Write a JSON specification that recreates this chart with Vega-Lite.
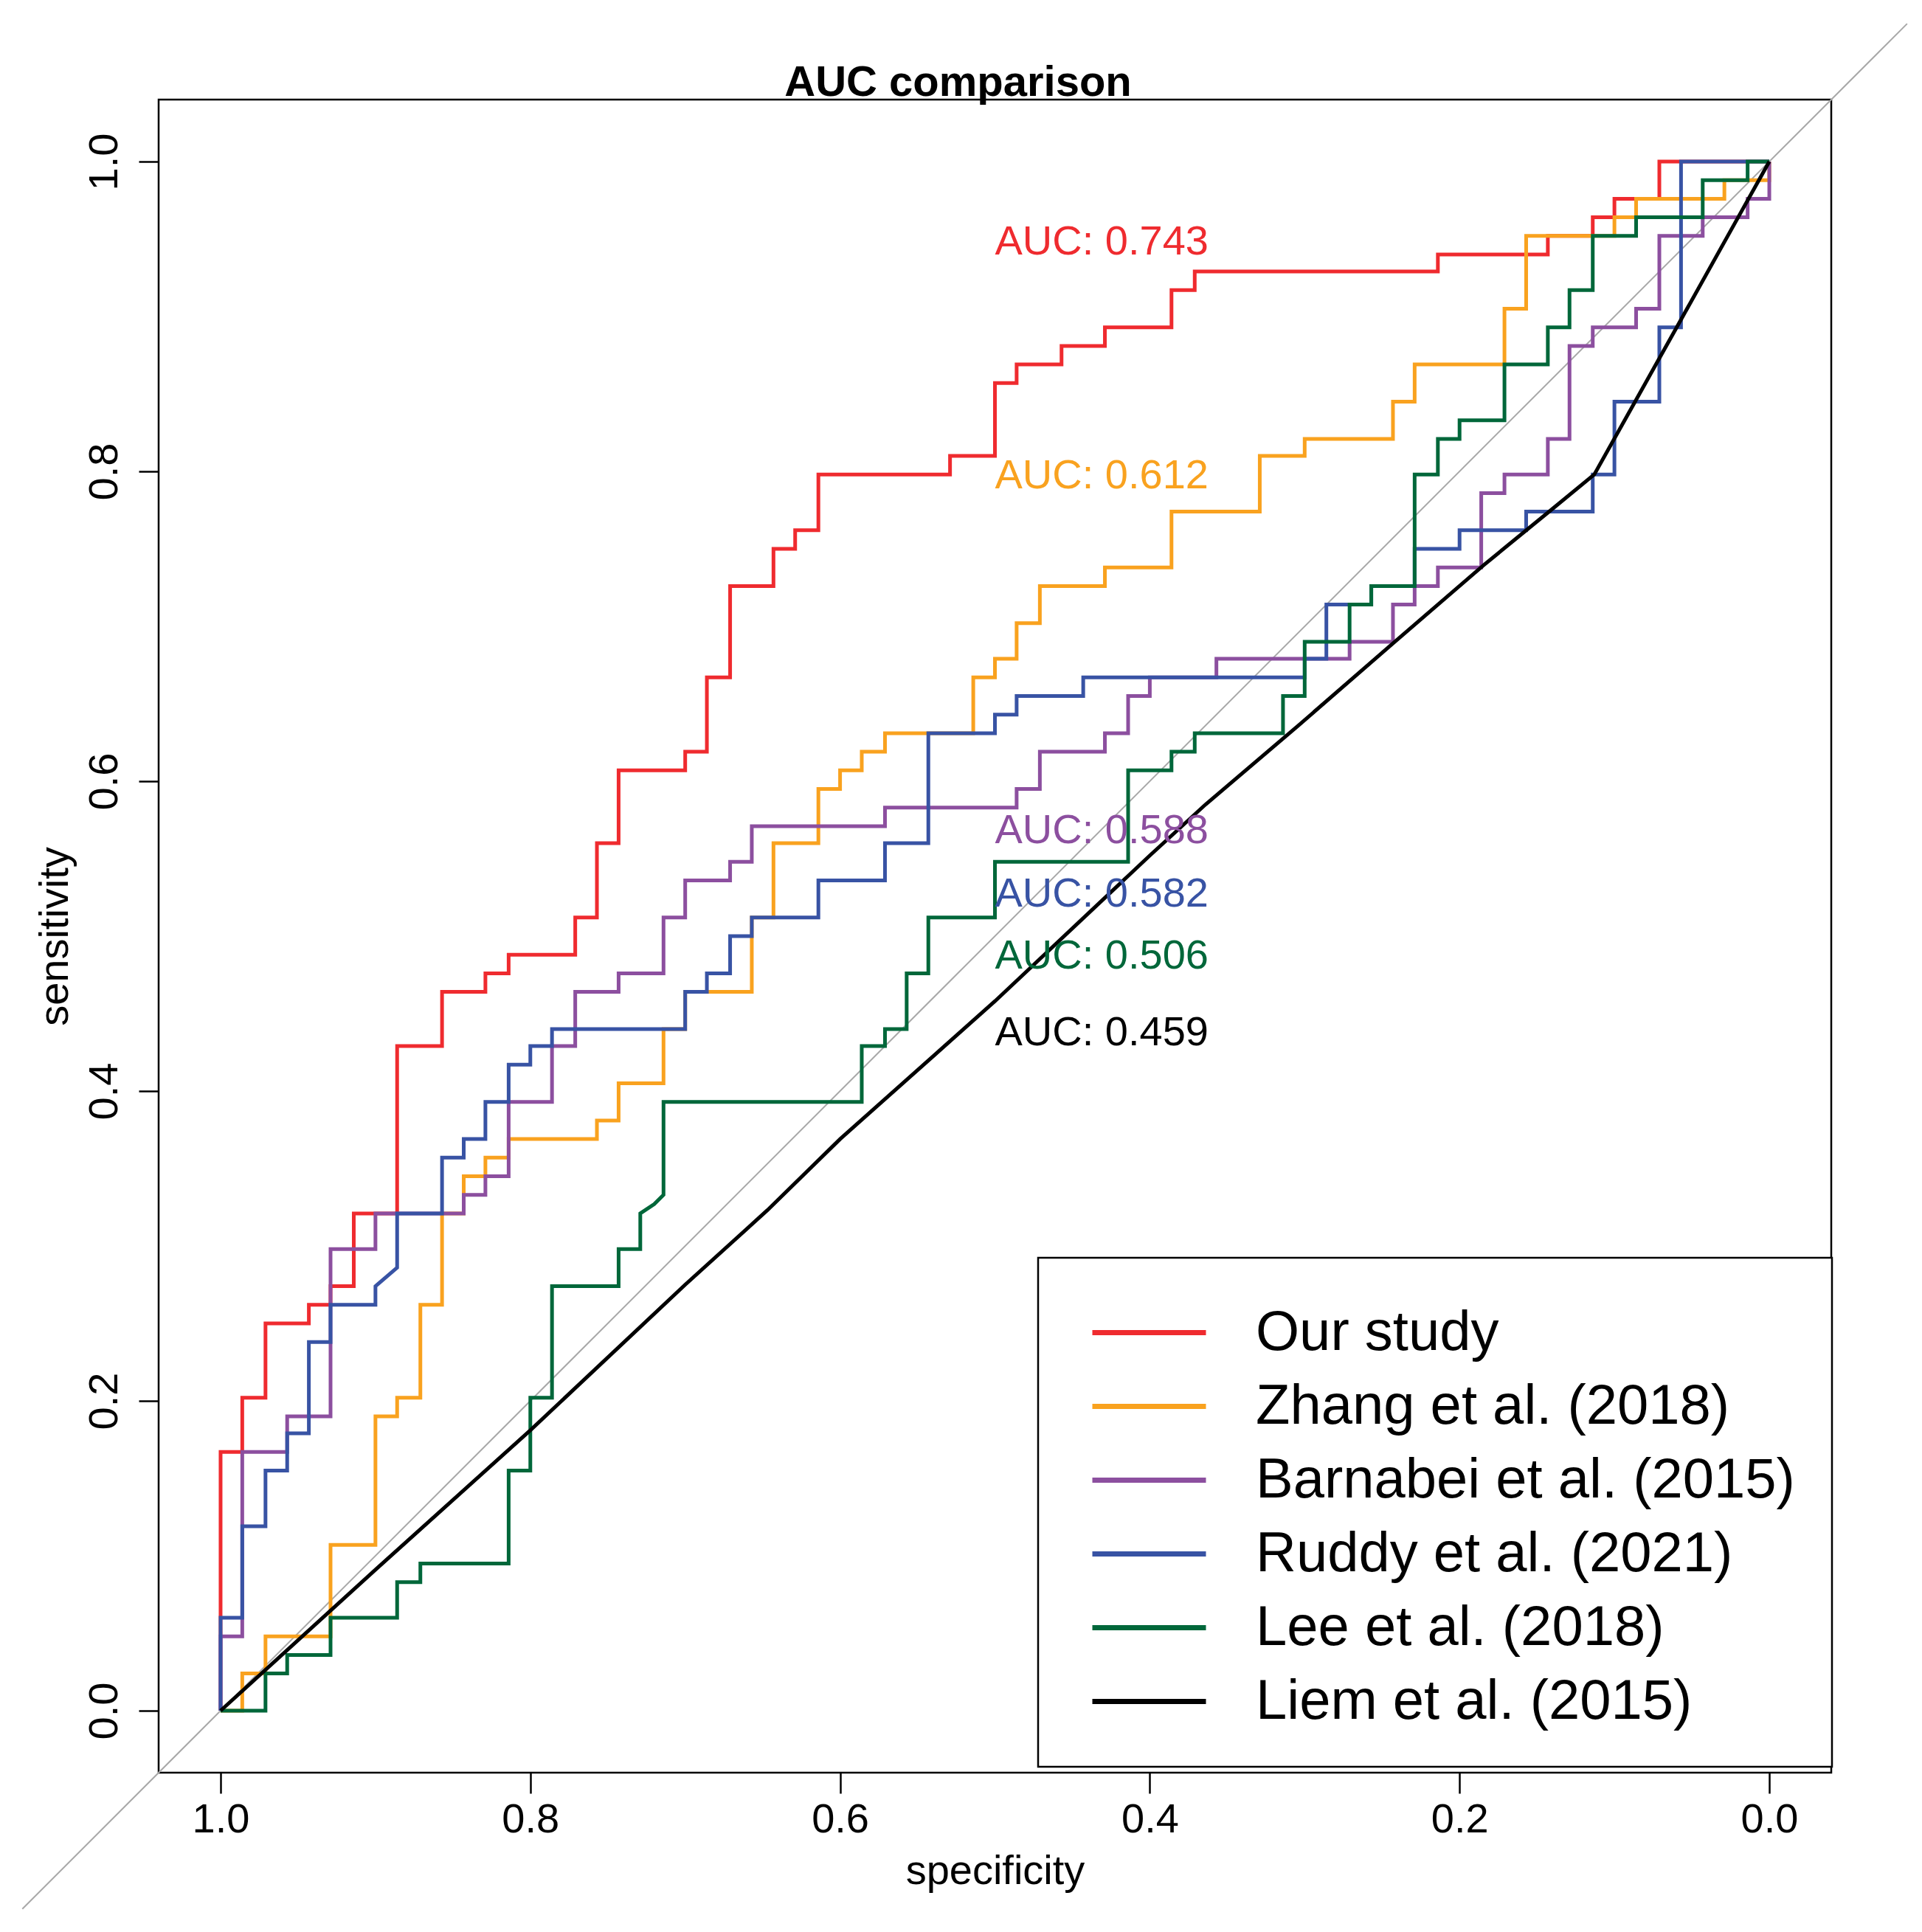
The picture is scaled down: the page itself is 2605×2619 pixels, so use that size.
{
  "$schema": "https://vega.github.io/schema/vega-lite/v6.json",
  "width": 2267,
  "height": 2268,
  "autosize": {"type": "none"},
  "padding": {"left": 215, "top": 135, "right": 123, "bottom": 216},
  "background": "white",
  "config": {
    "font": "Liberation Sans",
    "view": {"stroke": "black", "strokeWidth": 2.5},
    "axis": {
      "domain": false,
      "grid": false,
      "ticks": true,
      "tickColor": "black",
      "tickWidth": 2.5,
      "labelFont": "Liberation Sans",
      "labelFontSize": 56,
      "labelColor": "black",
      "labelFlush": false,
      "labelOverlap": false,
      "titleFont": "Liberation Sans",
      "titleFontSize": 56,
      "titleFontWeight": "normal",
      "titleColor": "black"
    }
  },
  "title": {
    "text": "AUC comparison",
    "font": "Liberation Sans",
    "fontSize": 58,
    "fontWeight": "bold",
    "color": "black",
    "anchor": "middle",
    "frame": "group",
    "dx": -50,
    "dy": 162,
    "offset": 5,
    "baseline": "alphabetic"
  },
  "datasets": {
    "diagonal": [{"spec": 1.128, "sens": -0.128, "spec2": -0.089, "sens2": 1.089}],
    "roc": [
      {"model":"Our study","spec":1,"sens":0},{"model":"Our study","spec":1,"sens":0.167},{"model":"Our study","spec":0.986,"sens":0.167},{"model":"Our study","spec":0.986,"sens":0.202},{"model":"Our study","spec":0.971,"sens":0.202},{"model":"Our study","spec":0.971,"sens":0.25},{"model":"Our study","spec":0.943,"sens":0.25},{"model":"Our study","spec":0.943,"sens":0.262},{"model":"Our study","spec":0.929,"sens":0.262},{"model":"Our study","spec":0.929,"sens":0.274},{"model":"Our study","spec":0.914,"sens":0.274},{"model":"Our study","spec":0.914,"sens":0.321},{"model":"Our study","spec":0.886,"sens":0.321},{"model":"Our study","spec":0.886,"sens":0.429},{"model":"Our study","spec":0.857,"sens":0.429},{"model":"Our study","spec":0.857,"sens":0.464},{"model":"Our study","spec":0.829,"sens":0.464},{"model":"Our study","spec":0.829,"sens":0.476},{"model":"Our study","spec":0.814,"sens":0.476},{"model":"Our study","spec":0.814,"sens":0.488},{"model":"Our study","spec":0.771,"sens":0.488},{"model":"Our study","spec":0.771,"sens":0.512},{"model":"Our study","spec":0.757,"sens":0.512},{"model":"Our study","spec":0.757,"sens":0.56},{"model":"Our study","spec":0.743,"sens":0.56},{"model":"Our study","spec":0.743,"sens":0.607},{"model":"Our study","spec":0.7,"sens":0.607},{"model":"Our study","spec":0.7,"sens":0.619},{"model":"Our study","spec":0.686,"sens":0.619},{"model":"Our study","spec":0.686,"sens":0.667},{"model":"Our study","spec":0.671,"sens":0.667},{"model":"Our study","spec":0.671,"sens":0.726},{"model":"Our study","spec":0.643,"sens":0.726},{"model":"Our study","spec":0.643,"sens":0.75},{"model":"Our study","spec":0.629,"sens":0.75},{"model":"Our study","spec":0.629,"sens":0.762},{"model":"Our study","spec":0.614,"sens":0.762},{"model":"Our study","spec":0.614,"sens":0.798},{"model":"Our study","spec":0.529,"sens":0.798},{"model":"Our study","spec":0.529,"sens":0.81},{"model":"Our study","spec":0.5,"sens":0.81},{"model":"Our study","spec":0.5,"sens":0.857},{"model":"Our study","spec":0.486,"sens":0.857},{"model":"Our study","spec":0.486,"sens":0.869},{"model":"Our study","spec":0.457,"sens":0.869},{"model":"Our study","spec":0.457,"sens":0.881},{"model":"Our study","spec":0.429,"sens":0.881},{"model":"Our study","spec":0.429,"sens":0.893},{"model":"Our study","spec":0.386,"sens":0.893},{"model":"Our study","spec":0.386,"sens":0.917},{"model":"Our study","spec":0.371,"sens":0.917},{"model":"Our study","spec":0.371,"sens":0.929},{"model":"Our study","spec":0.214,"sens":0.929},{"model":"Our study","spec":0.214,"sens":0.94},{"model":"Our study","spec":0.143,"sens":0.94},{"model":"Our study","spec":0.143,"sens":0.952},{"model":"Our study","spec":0.114,"sens":0.952},{"model":"Our study","spec":0.114,"sens":0.964},{"model":"Our study","spec":0.1,"sens":0.964},{"model":"Our study","spec":0.1,"sens":0.976},{"model":"Our study","spec":0.071,"sens":0.976},{"model":"Our study","spec":0.071,"sens":1},{"model":"Our study","spec":0,"sens":1},

      {"model":"Zhang et al. (2018)","spec":1,"sens":0},{"model":"Zhang et al. (2018)","spec":0.986,"sens":0},{"model":"Zhang et al. (2018)","spec":0.986,"sens":0.024},{"model":"Zhang et al. (2018)","spec":0.971,"sens":0.024},{"model":"Zhang et al. (2018)","spec":0.971,"sens":0.048},{"model":"Zhang et al. (2018)","spec":0.929,"sens":0.048},{"model":"Zhang et al. (2018)","spec":0.929,"sens":0.107},{"model":"Zhang et al. (2018)","spec":0.9,"sens":0.107},{"model":"Zhang et al. (2018)","spec":0.9,"sens":0.19},{"model":"Zhang et al. (2018)","spec":0.886,"sens":0.19},{"model":"Zhang et al. (2018)","spec":0.886,"sens":0.202},{"model":"Zhang et al. (2018)","spec":0.871,"sens":0.202},{"model":"Zhang et al. (2018)","spec":0.871,"sens":0.262},{"model":"Zhang et al. (2018)","spec":0.857,"sens":0.262},{"model":"Zhang et al. (2018)","spec":0.857,"sens":0.321},{"model":"Zhang et al. (2018)","spec":0.843,"sens":0.321},{"model":"Zhang et al. (2018)","spec":0.843,"sens":0.345},{"model":"Zhang et al. (2018)","spec":0.829,"sens":0.345},{"model":"Zhang et al. (2018)","spec":0.829,"sens":0.357},{"model":"Zhang et al. (2018)","spec":0.814,"sens":0.357},{"model":"Zhang et al. (2018)","spec":0.814,"sens":0.369},{"model":"Zhang et al. (2018)","spec":0.757,"sens":0.369},{"model":"Zhang et al. (2018)","spec":0.757,"sens":0.381},{"model":"Zhang et al. (2018)","spec":0.743,"sens":0.381},{"model":"Zhang et al. (2018)","spec":0.743,"sens":0.405},{"model":"Zhang et al. (2018)","spec":0.714,"sens":0.405},{"model":"Zhang et al. (2018)","spec":0.714,"sens":0.44},{"model":"Zhang et al. (2018)","spec":0.7,"sens":0.44},{"model":"Zhang et al. (2018)","spec":0.7,"sens":0.464},{"model":"Zhang et al. (2018)","spec":0.657,"sens":0.464},{"model":"Zhang et al. (2018)","spec":0.657,"sens":0.512},{"model":"Zhang et al. (2018)","spec":0.643,"sens":0.512},{"model":"Zhang et al. (2018)","spec":0.643,"sens":0.56},{"model":"Zhang et al. (2018)","spec":0.614,"sens":0.56},{"model":"Zhang et al. (2018)","spec":0.614,"sens":0.595},{"model":"Zhang et al. (2018)","spec":0.6,"sens":0.595},{"model":"Zhang et al. (2018)","spec":0.6,"sens":0.607},{"model":"Zhang et al. (2018)","spec":0.586,"sens":0.607},{"model":"Zhang et al. (2018)","spec":0.586,"sens":0.619},{"model":"Zhang et al. (2018)","spec":0.571,"sens":0.619},{"model":"Zhang et al. (2018)","spec":0.571,"sens":0.631},{"model":"Zhang et al. (2018)","spec":0.514,"sens":0.631},{"model":"Zhang et al. (2018)","spec":0.514,"sens":0.667},{"model":"Zhang et al. (2018)","spec":0.5,"sens":0.667},{"model":"Zhang et al. (2018)","spec":0.5,"sens":0.679},{"model":"Zhang et al. (2018)","spec":0.486,"sens":0.679},{"model":"Zhang et al. (2018)","spec":0.486,"sens":0.702},{"model":"Zhang et al. (2018)","spec":0.471,"sens":0.702},{"model":"Zhang et al. (2018)","spec":0.471,"sens":0.726},{"model":"Zhang et al. (2018)","spec":0.429,"sens":0.726},{"model":"Zhang et al. (2018)","spec":0.429,"sens":0.738},{"model":"Zhang et al. (2018)","spec":0.386,"sens":0.738},{"model":"Zhang et al. (2018)","spec":0.386,"sens":0.774},{"model":"Zhang et al. (2018)","spec":0.329,"sens":0.774},{"model":"Zhang et al. (2018)","spec":0.329,"sens":0.81},{"model":"Zhang et al. (2018)","spec":0.3,"sens":0.81},{"model":"Zhang et al. (2018)","spec":0.3,"sens":0.821},{"model":"Zhang et al. (2018)","spec":0.243,"sens":0.821},{"model":"Zhang et al. (2018)","spec":0.243,"sens":0.845},{"model":"Zhang et al. (2018)","spec":0.229,"sens":0.845},{"model":"Zhang et al. (2018)","spec":0.229,"sens":0.869},{"model":"Zhang et al. (2018)","spec":0.171,"sens":0.869},{"model":"Zhang et al. (2018)","spec":0.171,"sens":0.905},{"model":"Zhang et al. (2018)","spec":0.157,"sens":0.905},{"model":"Zhang et al. (2018)","spec":0.157,"sens":0.952},{"model":"Zhang et al. (2018)","spec":0.1,"sens":0.952},{"model":"Zhang et al. (2018)","spec":0.1,"sens":0.964},{"model":"Zhang et al. (2018)","spec":0.086,"sens":0.964},{"model":"Zhang et al. (2018)","spec":0.086,"sens":0.976},{"model":"Zhang et al. (2018)","spec":0.029,"sens":0.976},{"model":"Zhang et al. (2018)","spec":0.029,"sens":0.988},{"model":"Zhang et al. (2018)","spec":0,"sens":0.988},{"model":"Zhang et al. (2018)","spec":0,"sens":1},

      {"model":"Barnabei et al. (2015)","spec":1,"sens":0},{"model":"Barnabei et al. (2015)","spec":1,"sens":0.048},{"model":"Barnabei et al. (2015)","spec":0.986,"sens":0.048},{"model":"Barnabei et al. (2015)","spec":0.986,"sens":0.167},{"model":"Barnabei et al. (2015)","spec":0.957,"sens":0.167},{"model":"Barnabei et al. (2015)","spec":0.957,"sens":0.19},{"model":"Barnabei et al. (2015)","spec":0.929,"sens":0.19},{"model":"Barnabei et al. (2015)","spec":0.929,"sens":0.298},{"model":"Barnabei et al. (2015)","spec":0.9,"sens":0.298},{"model":"Barnabei et al. (2015)","spec":0.9,"sens":0.321},{"model":"Barnabei et al. (2015)","spec":0.843,"sens":0.321},{"model":"Barnabei et al. (2015)","spec":0.843,"sens":0.333},{"model":"Barnabei et al. (2015)","spec":0.829,"sens":0.333},{"model":"Barnabei et al. (2015)","spec":0.829,"sens":0.345},{"model":"Barnabei et al. (2015)","spec":0.814,"sens":0.345},{"model":"Barnabei et al. (2015)","spec":0.814,"sens":0.393},{"model":"Barnabei et al. (2015)","spec":0.786,"sens":0.393},{"model":"Barnabei et al. (2015)","spec":0.786,"sens":0.429},{"model":"Barnabei et al. (2015)","spec":0.771,"sens":0.429},{"model":"Barnabei et al. (2015)","spec":0.771,"sens":0.464},{"model":"Barnabei et al. (2015)","spec":0.743,"sens":0.464},{"model":"Barnabei et al. (2015)","spec":0.743,"sens":0.476},{"model":"Barnabei et al. (2015)","spec":0.714,"sens":0.476},{"model":"Barnabei et al. (2015)","spec":0.714,"sens":0.512},{"model":"Barnabei et al. (2015)","spec":0.7,"sens":0.512},{"model":"Barnabei et al. (2015)","spec":0.7,"sens":0.536},{"model":"Barnabei et al. (2015)","spec":0.671,"sens":0.536},{"model":"Barnabei et al. (2015)","spec":0.671,"sens":0.548},{"model":"Barnabei et al. (2015)","spec":0.657,"sens":0.548},{"model":"Barnabei et al. (2015)","spec":0.657,"sens":0.571},{"model":"Barnabei et al. (2015)","spec":0.571,"sens":0.571},{"model":"Barnabei et al. (2015)","spec":0.571,"sens":0.583},{"model":"Barnabei et al. (2015)","spec":0.486,"sens":0.583},{"model":"Barnabei et al. (2015)","spec":0.486,"sens":0.595},{"model":"Barnabei et al. (2015)","spec":0.471,"sens":0.595},{"model":"Barnabei et al. (2015)","spec":0.471,"sens":0.619},{"model":"Barnabei et al. (2015)","spec":0.429,"sens":0.619},{"model":"Barnabei et al. (2015)","spec":0.429,"sens":0.631},{"model":"Barnabei et al. (2015)","spec":0.414,"sens":0.631},{"model":"Barnabei et al. (2015)","spec":0.414,"sens":0.655},{"model":"Barnabei et al. (2015)","spec":0.4,"sens":0.655},{"model":"Barnabei et al. (2015)","spec":0.4,"sens":0.667},{"model":"Barnabei et al. (2015)","spec":0.357,"sens":0.667},{"model":"Barnabei et al. (2015)","spec":0.357,"sens":0.679},{"model":"Barnabei et al. (2015)","spec":0.271,"sens":0.679},{"model":"Barnabei et al. (2015)","spec":0.271,"sens":0.69},{"model":"Barnabei et al. (2015)","spec":0.243,"sens":0.69},{"model":"Barnabei et al. (2015)","spec":0.243,"sens":0.714},{"model":"Barnabei et al. (2015)","spec":0.229,"sens":0.714},{"model":"Barnabei et al. (2015)","spec":0.229,"sens":0.726},{"model":"Barnabei et al. (2015)","spec":0.214,"sens":0.726},{"model":"Barnabei et al. (2015)","spec":0.214,"sens":0.738},{"model":"Barnabei et al. (2015)","spec":0.186,"sens":0.738},{"model":"Barnabei et al. (2015)","spec":0.186,"sens":0.786},{"model":"Barnabei et al. (2015)","spec":0.171,"sens":0.786},{"model":"Barnabei et al. (2015)","spec":0.171,"sens":0.798},{"model":"Barnabei et al. (2015)","spec":0.143,"sens":0.798},{"model":"Barnabei et al. (2015)","spec":0.143,"sens":0.821},{"model":"Barnabei et al. (2015)","spec":0.129,"sens":0.821},{"model":"Barnabei et al. (2015)","spec":0.129,"sens":0.881},{"model":"Barnabei et al. (2015)","spec":0.114,"sens":0.881},{"model":"Barnabei et al. (2015)","spec":0.114,"sens":0.893},{"model":"Barnabei et al. (2015)","spec":0.086,"sens":0.893},{"model":"Barnabei et al. (2015)","spec":0.086,"sens":0.905},{"model":"Barnabei et al. (2015)","spec":0.071,"sens":0.905},{"model":"Barnabei et al. (2015)","spec":0.071,"sens":0.952},{"model":"Barnabei et al. (2015)","spec":0.043,"sens":0.952},{"model":"Barnabei et al. (2015)","spec":0.043,"sens":0.964},{"model":"Barnabei et al. (2015)","spec":0.014,"sens":0.964},{"model":"Barnabei et al. (2015)","spec":0.014,"sens":0.976},{"model":"Barnabei et al. (2015)","spec":0,"sens":0.976},{"model":"Barnabei et al. (2015)","spec":0,"sens":1},

      {"model":"Ruddy et al. (2021)","spec":1,"sens":0},{"model":"Ruddy et al. (2021)","spec":1,"sens":0.06},{"model":"Ruddy et al. (2021)","spec":0.986,"sens":0.06},{"model":"Ruddy et al. (2021)","spec":0.986,"sens":0.119},{"model":"Ruddy et al. (2021)","spec":0.971,"sens":0.119},{"model":"Ruddy et al. (2021)","spec":0.971,"sens":0.155},{"model":"Ruddy et al. (2021)","spec":0.957,"sens":0.155},{"model":"Ruddy et al. (2021)","spec":0.957,"sens":0.179},{"model":"Ruddy et al. (2021)","spec":0.943,"sens":0.179},{"model":"Ruddy et al. (2021)","spec":0.943,"sens":0.238},{"model":"Ruddy et al. (2021)","spec":0.929,"sens":0.238},{"model":"Ruddy et al. (2021)","spec":0.929,"sens":0.262},{"model":"Ruddy et al. (2021)","spec":0.9,"sens":0.262},{"model":"Ruddy et al. (2021)","spec":0.9,"sens":0.274},{"model":"Ruddy et al. (2021)","spec":0.886,"sens":0.286},{"model":"Ruddy et al. (2021)","spec":0.886,"sens":0.321},{"model":"Ruddy et al. (2021)","spec":0.857,"sens":0.321},{"model":"Ruddy et al. (2021)","spec":0.857,"sens":0.357},{"model":"Ruddy et al. (2021)","spec":0.843,"sens":0.357},{"model":"Ruddy et al. (2021)","spec":0.843,"sens":0.369},{"model":"Ruddy et al. (2021)","spec":0.829,"sens":0.369},{"model":"Ruddy et al. (2021)","spec":0.829,"sens":0.393},{"model":"Ruddy et al. (2021)","spec":0.814,"sens":0.393},{"model":"Ruddy et al. (2021)","spec":0.814,"sens":0.417},{"model":"Ruddy et al. (2021)","spec":0.8,"sens":0.417},{"model":"Ruddy et al. (2021)","spec":0.8,"sens":0.429},{"model":"Ruddy et al. (2021)","spec":0.786,"sens":0.429},{"model":"Ruddy et al. (2021)","spec":0.786,"sens":0.44},{"model":"Ruddy et al. (2021)","spec":0.7,"sens":0.44},{"model":"Ruddy et al. (2021)","spec":0.7,"sens":0.464},{"model":"Ruddy et al. (2021)","spec":0.686,"sens":0.464},{"model":"Ruddy et al. (2021)","spec":0.686,"sens":0.476},{"model":"Ruddy et al. (2021)","spec":0.671,"sens":0.476},{"model":"Ruddy et al. (2021)","spec":0.671,"sens":0.5},{"model":"Ruddy et al. (2021)","spec":0.657,"sens":0.5},{"model":"Ruddy et al. (2021)","spec":0.657,"sens":0.512},{"model":"Ruddy et al. (2021)","spec":0.614,"sens":0.512},{"model":"Ruddy et al. (2021)","spec":0.614,"sens":0.536},{"model":"Ruddy et al. (2021)","spec":0.571,"sens":0.536},{"model":"Ruddy et al. (2021)","spec":0.571,"sens":0.56},{"model":"Ruddy et al. (2021)","spec":0.543,"sens":0.56},{"model":"Ruddy et al. (2021)","spec":0.543,"sens":0.631},{"model":"Ruddy et al. (2021)","spec":0.5,"sens":0.631},{"model":"Ruddy et al. (2021)","spec":0.5,"sens":0.643},{"model":"Ruddy et al. (2021)","spec":0.486,"sens":0.643},{"model":"Ruddy et al. (2021)","spec":0.486,"sens":0.655},{"model":"Ruddy et al. (2021)","spec":0.443,"sens":0.655},{"model":"Ruddy et al. (2021)","spec":0.443,"sens":0.667},{"model":"Ruddy et al. (2021)","spec":0.3,"sens":0.667},{"model":"Ruddy et al. (2021)","spec":0.3,"sens":0.679},{"model":"Ruddy et al. (2021)","spec":0.286,"sens":0.679},{"model":"Ruddy et al. (2021)","spec":0.286,"sens":0.714},{"model":"Ruddy et al. (2021)","spec":0.257,"sens":0.714},{"model":"Ruddy et al. (2021)","spec":0.257,"sens":0.726},{"model":"Ruddy et al. (2021)","spec":0.229,"sens":0.726},{"model":"Ruddy et al. (2021)","spec":0.229,"sens":0.75},{"model":"Ruddy et al. (2021)","spec":0.2,"sens":0.75},{"model":"Ruddy et al. (2021)","spec":0.2,"sens":0.762},{"model":"Ruddy et al. (2021)","spec":0.157,"sens":0.762},{"model":"Ruddy et al. (2021)","spec":0.157,"sens":0.774},{"model":"Ruddy et al. (2021)","spec":0.114,"sens":0.774},{"model":"Ruddy et al. (2021)","spec":0.114,"sens":0.798},{"model":"Ruddy et al. (2021)","spec":0.1,"sens":0.798},{"model":"Ruddy et al. (2021)","spec":0.1,"sens":0.845},{"model":"Ruddy et al. (2021)","spec":0.071,"sens":0.845},{"model":"Ruddy et al. (2021)","spec":0.071,"sens":0.893},{"model":"Ruddy et al. (2021)","spec":0.057,"sens":0.893},{"model":"Ruddy et al. (2021)","spec":0.057,"sens":1},{"model":"Ruddy et al. (2021)","spec":0,"sens":1},

      {"model":"Lee et al. (2018)","spec":1,"sens":0},{"model":"Lee et al. (2018)","spec":0.971,"sens":0},{"model":"Lee et al. (2018)","spec":0.971,"sens":0.024},{"model":"Lee et al. (2018)","spec":0.957,"sens":0.024},{"model":"Lee et al. (2018)","spec":0.957,"sens":0.036},{"model":"Lee et al. (2018)","spec":0.929,"sens":0.036},{"model":"Lee et al. (2018)","spec":0.929,"sens":0.06},{"model":"Lee et al. (2018)","spec":0.886,"sens":0.06},{"model":"Lee et al. (2018)","spec":0.886,"sens":0.083},{"model":"Lee et al. (2018)","spec":0.871,"sens":0.083},{"model":"Lee et al. (2018)","spec":0.871,"sens":0.095},{"model":"Lee et al. (2018)","spec":0.814,"sens":0.095},{"model":"Lee et al. (2018)","spec":0.814,"sens":0.155},{"model":"Lee et al. (2018)","spec":0.8,"sens":0.155},{"model":"Lee et al. (2018)","spec":0.8,"sens":0.202},{"model":"Lee et al. (2018)","spec":0.786,"sens":0.202},{"model":"Lee et al. (2018)","spec":0.786,"sens":0.274},{"model":"Lee et al. (2018)","spec":0.743,"sens":0.274},{"model":"Lee et al. (2018)","spec":0.743,"sens":0.298},{"model":"Lee et al. (2018)","spec":0.729,"sens":0.298},{"model":"Lee et al. (2018)","spec":0.729,"sens":0.321},{"model":"Lee et al. (2018)","spec":0.72,"sens":0.327},{"model":"Lee et al. (2018)","spec":0.714,"sens":0.333},{"model":"Lee et al. (2018)","spec":0.714,"sens":0.393},{"model":"Lee et al. (2018)","spec":0.586,"sens":0.393},{"model":"Lee et al. (2018)","spec":0.586,"sens":0.429},{"model":"Lee et al. (2018)","spec":0.571,"sens":0.429},{"model":"Lee et al. (2018)","spec":0.571,"sens":0.44},{"model":"Lee et al. (2018)","spec":0.557,"sens":0.44},{"model":"Lee et al. (2018)","spec":0.557,"sens":0.476},{"model":"Lee et al. (2018)","spec":0.543,"sens":0.476},{"model":"Lee et al. (2018)","spec":0.543,"sens":0.512},{"model":"Lee et al. (2018)","spec":0.5,"sens":0.512},{"model":"Lee et al. (2018)","spec":0.5,"sens":0.548},{"model":"Lee et al. (2018)","spec":0.414,"sens":0.548},{"model":"Lee et al. (2018)","spec":0.414,"sens":0.607},{"model":"Lee et al. (2018)","spec":0.386,"sens":0.607},{"model":"Lee et al. (2018)","spec":0.386,"sens":0.619},{"model":"Lee et al. (2018)","spec":0.371,"sens":0.619},{"model":"Lee et al. (2018)","spec":0.371,"sens":0.631},{"model":"Lee et al. (2018)","spec":0.314,"sens":0.631},{"model":"Lee et al. (2018)","spec":0.314,"sens":0.655},{"model":"Lee et al. (2018)","spec":0.3,"sens":0.655},{"model":"Lee et al. (2018)","spec":0.3,"sens":0.69},{"model":"Lee et al. (2018)","spec":0.271,"sens":0.69},{"model":"Lee et al. (2018)","spec":0.271,"sens":0.714},{"model":"Lee et al. (2018)","spec":0.257,"sens":0.714},{"model":"Lee et al. (2018)","spec":0.257,"sens":0.726},{"model":"Lee et al. (2018)","spec":0.229,"sens":0.726},{"model":"Lee et al. (2018)","spec":0.229,"sens":0.798},{"model":"Lee et al. (2018)","spec":0.214,"sens":0.798},{"model":"Lee et al. (2018)","spec":0.214,"sens":0.821},{"model":"Lee et al. (2018)","spec":0.2,"sens":0.821},{"model":"Lee et al. (2018)","spec":0.2,"sens":0.833},{"model":"Lee et al. (2018)","spec":0.171,"sens":0.833},{"model":"Lee et al. (2018)","spec":0.171,"sens":0.869},{"model":"Lee et al. (2018)","spec":0.143,"sens":0.869},{"model":"Lee et al. (2018)","spec":0.143,"sens":0.893},{"model":"Lee et al. (2018)","spec":0.129,"sens":0.893},{"model":"Lee et al. (2018)","spec":0.129,"sens":0.917},{"model":"Lee et al. (2018)","spec":0.114,"sens":0.917},{"model":"Lee et al. (2018)","spec":0.114,"sens":0.952},{"model":"Lee et al. (2018)","spec":0.086,"sens":0.952},{"model":"Lee et al. (2018)","spec":0.086,"sens":0.964},{"model":"Lee et al. (2018)","spec":0.043,"sens":0.964},{"model":"Lee et al. (2018)","spec":0.043,"sens":0.988},{"model":"Lee et al. (2018)","spec":0.014,"sens":0.988},{"model":"Lee et al. (2018)","spec":0.014,"sens":1},{"model":"Lee et al. (2018)","spec":0,"sens":1},

      {"model":"Liem et al. (2015)","spec":1,"sens":0},{"model":"Liem et al. (2015)","spec":0.9,"sens":0.091},{"model":"Liem et al. (2015)","spec":0.8,"sens":0.181},{"model":"Liem et al. (2015)","spec":0.7,"sens":0.275},{"model":"Liem et al. (2015)","spec":0.647,"sens":0.323},{"model":"Liem et al. (2015)","spec":0.6,"sens":0.369},{"model":"Liem et al. (2015)","spec":0.5,"sens":0.458},{"model":"Liem et al. (2015)","spec":0.4,"sens":0.552},{"model":"Liem et al. (2015)","spec":0.364,"sens":0.585},{"model":"Liem et al. (2015)","spec":0.304,"sens":0.636},{"model":"Liem et al. (2015)","spec":0.243,"sens":0.689},{"model":"Liem et al. (2015)","spec":0.185,"sens":0.739},{"model":"Liem et al. (2015)","spec":0.141,"sens":0.775},{"model":"Liem et al. (2015)","spec":0.113,"sens":0.798},{"model":"Liem et al. (2015)","spec":0.085,"sens":0.848},{"model":"Liem et al. (2015)","spec":0.057,"sens":0.898},{"model":"Liem et al. (2015)","spec":0.019,"sens":0.966},{"model":"Liem et al. (2015)","spec":0,"sens":1}
    ],
    "auc": [
      {"model":"Our study","label":"AUC: 0.743","spec":0.5,"sens":0.948},
      {"model":"Zhang et al. (2018)","label":"AUC: 0.612","spec":0.5,"sens":0.797},
      {"model":"Barnabei et al. (2015)","label":"AUC: 0.588","spec":0.5,"sens":0.568},
      {"model":"Ruddy et al. (2021)","label":"AUC: 0.582","spec":0.5,"sens":0.527},
      {"model":"Lee et al. (2018)","label":"AUC: 0.506","spec":0.5,"sens":0.487},
      {"model":"Liem et al. (2015)","label":"AUC: 0.459","spec":0.5,"sens":0.4375}
    ]
  },
  "encoding": {
    "x": {
      "field": "spec",
      "type": "quantitative",
      "title": "specificity",
      "scale": {"domain": [-0.04, 1.04], "reverse": true, "nice": false, "zero": false},
      "axis": {
        "values": [1, 0.8, 0.6, 0.4, 0.2, 0],
        "format": ".1f",
        "tickSize": 28,
        "labelBaseline": "alphabetic",
        "labelPadding": 52,
        "titleY": 150,
        "titleBaseline": "alphabetic"
      }
    },
    "y": {
      "field": "sens",
      "type": "quantitative",
      "title": "sensitivity",
      "scale": {"domain": [-0.04, 1.04], "nice": false, "zero": false},
      "axis": {
        "values": [0, 0.2, 0.4, 0.6, 0.8, 1],
        "format": ".1f",
        "tickSize": 27,
        "labelAngle": 270,
        "labelAlign": "center",
        "labelBaseline": "alphabetic",
        "labelPadding": 30,
        "titleAngle": 270,
        "titleAlign": "center",
        "titleBaseline": "alphabetic",
        "titleX": -124,
        "titleY": 1134
      }
    }
  },
  "layer": [
    {
      "data": {"name": "diagonal"},
      "mark": {"type": "rule", "color": "#a8a8a8", "strokeWidth": 2, "clip": false},
      "encoding": {
        "x2": {"field": "spec2"},
        "y2": {"field": "sens2"}
      }
    },
    {
      "data": {"name": "roc"},
      "mark": {"type": "line", "strokeWidth": 5, "clip": false},
      "encoding": {
        "order": {"value": null},
        "color": {
          "field": "model",
          "type": "nominal",
          "scale": {
            "domain": ["Our study", "Zhang et al. (2018)", "Barnabei et al. (2015)", "Ruddy et al. (2021)", "Lee et al. (2018)", "Liem et al. (2015)"],
            "range": ["#ef2b2f", "#f9a21f", "#8c4f9f", "#3853a4", "#00673a", "#000000"]
          },
          "legend": {
            "orient": "none",
            "legendX": 1192,
            "legendY": 1570,
            "title": null,
            "strokeColor": "black",
            "fillColor": "white",
            "padding": 50,
            "symbolType": "M-0.583,0H2.625",
            "symbolSize": 9216,
            "symbolStrokeWidth": 7,
            "labelFont": "Liberation Sans",
            "labelFontSize": 76,
            "labelColor": "black",
            "labelOffset": 142,
            "labelLimit": 2000,
            "rowPadding": 10,
            "encode": {"legend": {"update": {"strokeWidth": {"value": 2.5}}}}
          }
        },
        "strokeWidth": {
          "condition": {"test": "datum.model === 'Liem et al. (2015)'", "value": 7},
          "value": 5
        }
      }
    },
    {
      "data": {"name": "auc"},
      "mark": {"type": "text", "align": "left", "baseline": "middle", "fontSize": 56, "font": "Liberation Sans"},
      "encoding": {
        "text": {"field": "label"},
        "color": {"field": "model", "type": "nominal", "legend": null}
      }
    }
  ]
}
